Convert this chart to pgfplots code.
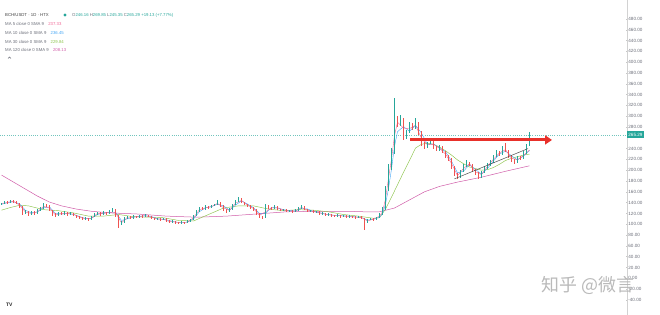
\documentclass[border=0pt]{standalone}
\usepackage{fontspec}
\setmainfont{Liberation Sans}
\newfontfamily\cjk{Noto Sans CJK SC}
\usepackage{pgfplots}
\usepackage{pgfplotstable}
\pgfplotsset{compat=1.18}
\usetikzlibrary{arrows.meta}
\definecolor{upc}{HTML}{26A69A}
\definecolor{dnc}{HTML}{EF5350}
\definecolor{maF}{HTML}{F06292}
\definecolor{maT}{HTML}{42A5F5}
\definecolor{maM}{HTML}{8BC34A}
\definecolor{maL}{HTML}{D05CA8}
\definecolor{arr}{HTML}{E8302A}
\definecolor{lbl}{HTML}{6A6D78}

\pgfplotstableread{
i o h l c
0 136 140 135 138
1 138 143 137 141
3 140 145 139 143
8 121 126 119 124
10 118 124 117 122
12 120 128 119 126
13 126 132 125 130
14 130 139 129 136
19 116 123 115 121
21 119 124 118 122
23 118 122 117 120
28 109 113 108 111
30 108 116 107 114
31 114 121 113 119
32 119 123 118 121
34 118 124 117 122
36 120 126 119 124
37 124 130 123 127
40 101 106 99 104
41 104 114 103 112
42 112 116 110 114
44 111 117 110 115
46 113 118 112 116
48 114 119 113 117
52 109 112 108 110
54 108 112 107 110
57 104 107 103 105
60 102 106 101 104
62 103 107 102 105
63 105 110 104 108
64 108 118 107 116
65 116 126 115 124
66 124 132 123 130
68 128 135 127 133
70 131 136 130 134
71 134 138 133 136
72 136 145 135 141
76 123 130 122 128
77 128 138 127 136
78 136 144 135 142
79 142 151 141 147
88 112 137 111 134
91 129 135 128 133
94 126 129 125 127
96 124 127 123 125
98 123 128 122 126
99 126 131 125 129
100 129 136 128 133
103 124 127 123 125
105 122 125 121 123
107 119 122 118 120
109 117 120 116 118
112 115 119 114 117
114 114 118 113 116
116 113 117 112 115
119 112 116 111 114
122 104 110 103 108
123 108 112 107 110
125 109 114 108 112
126 112 120 111 118
127 118 131 117 128
128 128 170 127 165
129 165 212 162 205
130 205 242 200 236
131 236 334 230 292
133 286 302 282 294
135 262 274 258 270
136 270 290 268 284
138 278 296 276 288
142 244 253 242 250
143 250 260 248 254
146 238 247 236 243
153 188 201 186 198
154 198 211 196 208
155 208 219 206 214
160 188 199 186 196
161 196 207 194 204
162 204 213 202 210
163 210 218 208 215
164 215 229 213 226
165 226 238 224 234
167 230 244 228 240
172 215 227 214 224
174 222 235 221 232
175 232 249 230 246
176 246.16 269.85 245.35 265.29
}\upT

\pgfplotstableread{
i o h l c
2 141 143 138 140
4 143 145 140 142
5 142 143 137 139
6 139 140 130 132
7 132 133 118 121
9 124 125 116 118
11 122 124 118 120
15 136 138 132 134
16 134 135 124 126
17 126 127 115 118
18 118 120 114 116
20 121 122 117 119
22 122 123 116 118
24 120 121 115 117
25 117 118 112 114
26 114 116 110 112
27 112 113 107 109
29 111 112 106 108
33 121 122 116 118
35 122 123 118 120
38 127 128 114 116
39 116 117 93 101
43 114 115 109 111
45 115 116 111 113
47 116 117 112 114
49 117 118 113 115
50 115 116 109 111
51 111 112 107 109
53 110 111 106 108
55 110 111 104 106
56 106 107 102 104
58 105 106 101 103
59 103 104 100 102
61 104 105 101 103
67 130 131 126 128
69 133 134 129 131
73 141 142 132 134
74 134 135 125 127
75 127 128 121 123
80 147 148 139 141
81 141 142 135 137
82 137 138 132 134
83 134 136 129 131
84 131 132 125 127
85 127 128 117 119
86 119 120 112 114
87 114 116 109 112
89 134 136 129 131
90 131 132 127 129
92 133 134 126 128
93 128 129 124 126
95 127 128 122 124
97 125 126 121 123
101 133 134 126 128
102 128 129 122 124
104 125 126 120 122
106 123 124 117 119
108 120 121 115 117
110 118 119 114 116
111 116 117 113 115
113 117 118 112 114
115 116 117 111 113
117 115 116 112 114
118 114 115 110 112
120 114 115 109 111
121 111 112 89 104
124 110 111 106 109
132 292 300 280 286
134 294 296 255 262
137 284 287 274 278
139 288 290 266 270
140 270 272 244 248
141 248 252 240 244
144 254 256 240 242
145 242 245 235 238
147 243 245 231 234
148 234 236 223 226
149 226 229 217 220
150 220 222 202 205
151 205 207 189 192
152 192 195 184 188
156 214 216 207 210
157 210 212 197 200
158 200 202 191 194
159 194 196 184 188
166 234 236 227 230
168 240 250 233 236
169 236 238 223 226
170 226 228 215 218
171 218 220 212 215
173 224 226 219 222
}\dnT

\pgfplotstableread{
i v
0 138
2 140.5
4 142.5
6 135.5
8 122.5
10 120
12 123
14 133
16 130
18 117
20 120
22 120
24 118.5
26 113
28 110
30 111
32 120
34 120
36 122
38 121.5
40 102.5
42 113
44 113
46 114.5
48 115.5
50 113
52 109.5
54 109
56 105
58 104
60 103
62 104
64 112
66 127
68 130.5
70 132.5
72 138.5
74 130.5
76 125.5
78 139
80 144
82 135.5
84 129
86 116.5
88 123
90 130
92 130.5
94 126.5
96 124.5
98 124.5
100 131
102 126
104 123.5
106 121
108 118.5
110 117
112 116
114 115
116 114
118 113
120 112.5
122 106
124 109.5
126 115
127 123
128 146.5
129 185
130 220.5
131 264
132 289
134 278
136 277
138 283
140 259
142 247
144 248
146 240.5
148 230
150 212.5
152 190
154 203
156 212
158 197
160 192
162 207
164 220.5
166 232
168 238
170 222
172 219.5
174 227
176 237.33
}\maFive

\pgfplotstableread{
i v
0 137
2 139.7
4 141.7
6 137.7
8 125.7
10 121.3
12 122.7
14 130.7
16 132
18 120
20 118.7
22 119.7
24 118.3
26 114.3
28 110.7
30 111
32 118
34 120.3
36 122
38 122.3
40 107
42 110
44 113.3
46 114.7
48 115.7
50 114.3
52 110
54 109.3
56 106.7
58 104
60 103
62 104
64 109.7
66 123.3
68 130.3
70 132.7
72 137
74 134
76 126
78 135.3
80 143.3
82 137.3
84 130.7
86 120
88 120
90 131.3
92 130
94 127
96 125.3
98 124.7
100 129.3
102 128.3
104 123.7
106 121.3
108 118.7
110 117
112 116
114 115.7
116 114.7
118 113.7
120 112.3
122 107.7
124 109
126 113
127 119.3
128 137
129 166
130 202
131 244.3
132 271.3
134 280.7
136 272
138 283.3
140 268.7
142 247.3
144 248.7
146 241
148 234.3
150 217
152 195
154 198
156 210.7
158 201.3
160 192.7
162 203.3
164 217
166 230
168 235.3
170 226.7
172 219
174 226
176 236.45
}\maTen

\pgfplotstableread{
i v
0 126
3 131
6 135
9 134
14 127
19 125
24 121
29 115
34 115
39 118
44 114
49 113
54 112
59 107
64 106
69 118
74 130
79 134
84 134
89 128
94 125
99 127
104 126
109 123
114 118
119 115
124 111
126 112
128 128
130 150
132 173
134 196
136 218
138 241
140 248
142 250
144 248
146 243
148 236
150 228
152 219
154 212
156 206
158 203
160 200
162 201
164 205
166 211
168 218
170 222
172 225
174 228
176 229.84
}\maThirty

\pgfplotstableread{
i v
0 191
4 178
8 165
12 152
16 141
20 134
25 128
30 124
36 121
45 119
55 115
65 113
75 115
85 119
95 123
105 124
115 124
121 123
126 123
131 130
136 145
141 160
146 170
152 178
160 187
168 198
176 208.13
}\maOneTwenty

\begin{document}
\begin{tikzpicture}
\path[use as bounding box] (0,0) rectangle (660bp,315bp);
\begin{axis}[
  at={(0,0)}, anchor=south west,
  scale only axis, width=627bp, height=315bp,
  xmin=-0.5, xmax=208.5, ymin=-68, ymax=515,
  axis x line=none,
  axis y line*=right,
  y axis line style={draw=gray!35, line width=0.4bp},
  ytick={-40,-20,0,20,40,60,80,100,120,140,160,180,200,220,240,280,300,320,340,360,380,400,420,440,460,480},
  major tick length=1.5bp,
  tick style={gray!45, line width=0.3bp},
  y tick label style={font=\fontsize{4.6}{5}\selectfont, text=lbl, inner sep=1.2bp,
    /pgf/number format/fixed, /pgf/number format/fixed zerofill,
    /pgf/number format/precision=2, /pgf/number format/assume math mode=true},
  clip=true,
]
% current price line
\addplot[upc!65, dash pattern=on 1bp off 1.2bp, line width=0.4bp, forget plot] coordinates {(-0.5,265.29) (208.5,265.29)};
% moving averages
\addplot[maL, line width=0.5bp, mark=none] table[x=i,y=v] {\maOneTwenty};
\addplot[maM, line width=0.45bp, mark=none] table[x=i,y=v] {\maThirty};
\addplot[maT, line width=0.4bp, mark=none] table[x=i,y=v] {\maTen};
\addplot[maF, line width=0.4bp, mark=none] table[x=i,y=v] {\maFive};
% wicks
\addplot[draw=none, mark=none, forget plot,
  error bars/.cd, y dir=both, y explicit, error mark=none,
  error bar style={draw=upc, line width=0.45bp}]
  table[x=i, y expr={(\thisrow{h}+\thisrow{l})/2}, y error expr={(\thisrow{h}-\thisrow{l})/2}] {\upT};
\addplot[draw=none, mark=none, forget plot,
  error bars/.cd, y dir=both, y explicit, error mark=none,
  error bar style={draw=dnc, line width=0.45bp}]
  table[x=i, y expr={(\thisrow{h}+\thisrow{l})/2}, y error expr={(\thisrow{h}-\thisrow{l})/2}] {\dnT};
% bodies
\addplot[draw=none, mark=none, forget plot,
  error bars/.cd, y dir=both, y explicit, error mark=none,
  error bar style={draw=upc, line width=1.9bp}]
  table[x=i, y expr={(\thisrow{o}+\thisrow{c})/2}, y error expr={max(abs(\thisrow{c}-\thisrow{o})/2,0.6)}] {\upT};
\addplot[draw=none, mark=none, forget plot,
  error bars/.cd, y dir=both, y explicit, error mark=none,
  error bar style={draw=dnc, line width=1.9bp}]
  table[x=i, y expr={(\thisrow{o}+\thisrow{c})/2}, y error expr={max(abs(\thisrow{c}-\thisrow{o})/2,0.6)}] {\dnT};
% trend line
\addplot[black!70, line width=0.5bp, mark=none, forget plot] coordinates {(151,184) (175.5,240)};
% red arrow
\addplot[arr, line width=3bp, mark=none, forget plot, -{Triangle[length=7bp, width=9bp]}] coordinates {(136.3,256) (183.5,256)};
\coordinate (pl) at (axis cs:208.5,265.29);
\end{axis}
% price label
\node[anchor=west, fill=upc, text=white, inner sep=1.2bp, font=\fontsize{4.6}{5}\selectfont, minimum height=7bp] at (pl) {265.29};
% header
\begin{scope}[every node/.style={anchor=west, inner sep=0pt, font=\fontsize{4.3}{5}\selectfont}]
\node[text=black!75] at (5bp,300bp) {BCH/USDT · 1D · HTX};
\fill[upc] (65bp,300bp) circle (1.6bp);
\node at (72bp,300bp) {\color{lbl}O\color{upc}246.16 \color{lbl}H\color{upc}269.85 \color{lbl}L\color{upc}245.35 \color{lbl}C\color{upc}265.29 +19.13 (+7.77\%)};
\node at (5bp,291bp) {\color{lbl}MA 5 close 0 SMA 9\quad\color{maF}237.33};
\node at (5bp,282bp) {\color{lbl}MA 10 close 0 SMA 9\quad\color{maT}236.45};
\node at (5bp,273bp) {\color{lbl}MA 30 close 0 SMA 9\quad\color{maM}229.84};
\node at (5bp,265bp) {\color{lbl}MA 120 close 0 SMA 9\quad\color{maL}208.13};
\end{scope}
\draw[lbl, line width=0.4bp] (8bp,256.5bp) -- (9.5bp,258bp) -- (11bp,256.5bp);
% TV logo
\node[anchor=west, inner sep=0pt, font=\bfseries\fontsize{5}{5}\selectfont, text=black!85] at (6bp,10bp) {TV};
% watermark
\node[inner sep=0pt, font=\cjk\fontsize{18}{18}\selectfont, text=gray!60, opacity=0.9] at (588bp,29bp) {知乎 @微言};
\end{tikzpicture}
\end{document}
